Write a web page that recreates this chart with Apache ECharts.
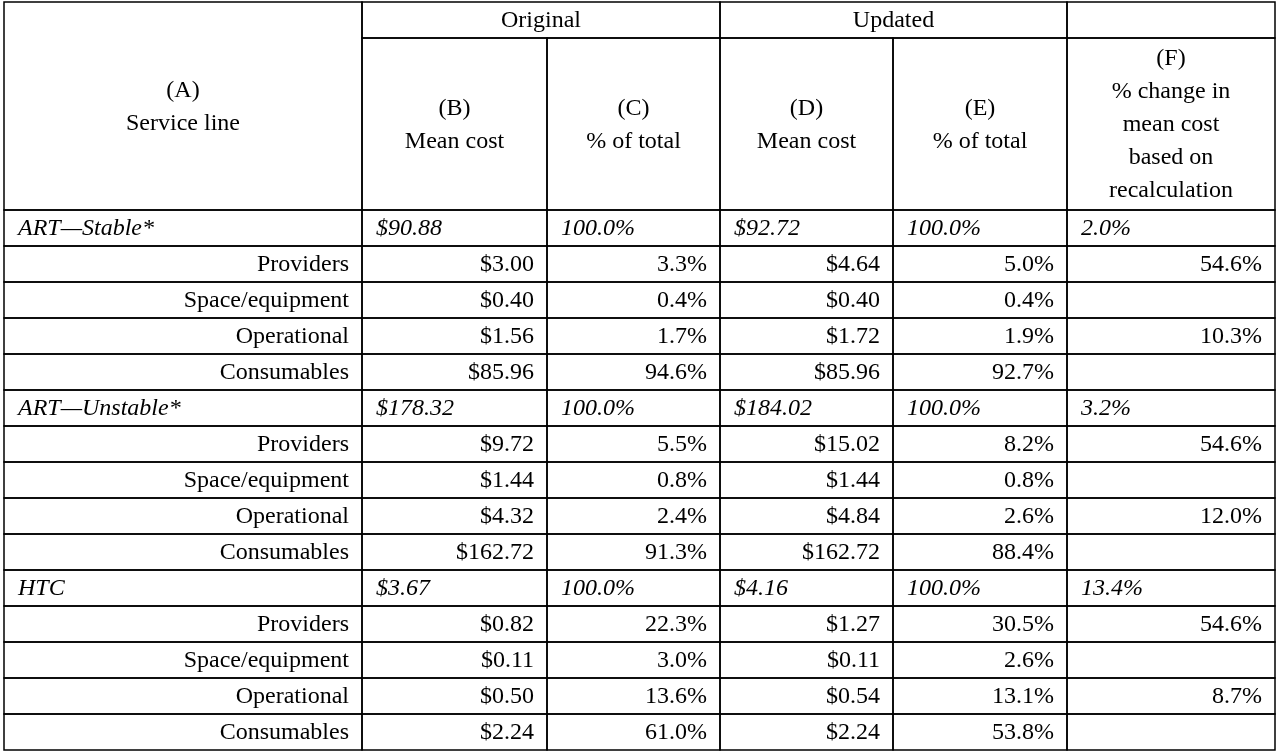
<!DOCTYPE html>
<html lang="en">
<head>
<meta charset="UTF-8">
<title>Service line cost table</title>
<script src="https://cdn.jsdelivr.net/npm/echarts@6/dist/echarts.min.js"></script>
<style>html,body{margin:0;padding:0;background:#fff;}</style>
</head>
<body>
<div id="main" style="width:1280px;height:753px;"></div>
<script type="text/javascript">
// table data
var rowLabels = ['ART\u2014Stable*', 'Providers', 'Space/equipment', 'Operational', 'Consumables',
                 'ART\u2014Unstable*', 'Providers', 'Space/equipment', 'Operational', 'Consumables',
                 'HTC', 'Providers', 'Space/equipment', 'Operational', 'Consumables'];
var isGroup   = [1,0,0,0,0, 1,0,0,0,0, 1,0,0,0,0];
var origMean  = ['$90.88','$3.00','$0.40','$1.56','$85.96', '$178.32','$9.72','$1.44','$4.32','$162.72', '$3.67','$0.82','$0.11','$0.50','$2.24'];
var origPct   = ['100.0%','3.3%','0.4%','1.7%','94.6%', '100.0%','5.5%','0.8%','2.4%','91.3%', '100.0%','22.3%','3.0%','13.6%','61.0%'];
var updMean   = ['$92.72','$4.64','$0.40','$1.72','$85.96', '$184.02','$15.02','$1.44','$4.84','$162.72', '$4.16','$1.27','$0.11','$0.54','$2.24'];
var updPct    = ['100.0%','5.0%','0.4%','1.9%','92.7%', '100.0%','8.2%','0.8%','2.6%','88.4%', '100.0%','30.5%','2.6%','13.1%','53.8%'];
var pctChange = ['2.0%','54.6%','','10.3%','', '3.2%','54.6%','','12.0%','', '13.4%','54.6%','','8.7%',''];
var colHeads  = ['(A)\nService line', '(B)\nMean cost', '(C)\n% of total', '(D)\nMean cost', '(E)\n% of total',
                 '(F)\n% change in\nmean cost\nbased on\nrecalculation'];

// layout
var colX = [4, 362, 547, 720, 893, 1067, 1275];
var headTop = 2, headMid = 38, headBot = 210, rowH = 36;

var cells = [];
function addCell(x0, x1, y0, y1, text, align, italic) {
  cells.push({value: [x0, y0, x1, y1], text: text, align: align, italic: italic});
}
addCell(colX[0], colX[1], headTop, headBot, colHeads[0], 'center', false);
addCell(colX[1], colX[3], headTop, headMid, 'Original', 'center', false);
addCell(colX[3], colX[5], headTop, headMid, 'Updated', 'center', false);
addCell(colX[5], colX[6], headTop, headMid, '', 'center', false);
for (var c = 1; c < 6; c++) addCell(colX[c], colX[c + 1], headMid, headBot, colHeads[c], 'center', false);
var cols = [rowLabels, origMean, origPct, updMean, updPct, pctChange];
for (var r = 0; r < rowLabels.length; r++) {
  var y0 = headBot + r * rowH;
  for (var k = 0; k < 6; k++) {
    addCell(colX[k], colX[k + 1], y0, y0 + rowH, cols[k][r], isGroup[r] ? 'left' : 'right', !!isGroup[r]);
  }
}

var myChart = echarts.init(document.getElementById('main'));
var option = {
  animation: false,
  grid: {left: 0, right: 0, top: 0, bottom: 0},
  xAxis: {type: 'value', min: 0, max: 1280, show: false},
  yAxis: {type: 'value', min: 0, max: 753, inverse: true, show: false},
  series: [{
    type: 'custom',
    coordinateSystem: 'cartesian2d',
    data: cells,
    renderItem: function (params, api) {
      var d = cells[params.dataIndex];
      var p0 = api.coord([d.value[0], d.value[1]]);
      var p1 = api.coord([d.value[2], d.value[3]]);
      var tx, ta;
      if (d.align === 'left') { tx = p0[0] + 14; ta = 'left'; }
      else if (d.align === 'right') { tx = p1[0] - 13; ta = 'right'; }
      else { tx = (p0[0] + p1[0]) / 2; ta = 'center'; }
      return {
        type: 'group',
        children: [{
          type: 'rect',
          shape: {x: p0[0], y: p0[1], width: p1[0] - p0[0], height: p1[1] - p0[1]},
          style: {fill: 'none', stroke: '#000', lineWidth: 1.5}
        }, {
          type: 'text',
          style: {
            x: tx, y: (p0[1] + p1[1]) / 2 + 1,
            text: d.text, align: ta, verticalAlign: 'middle',
            font: (d.italic ? 'italic ' : '') + '24px "Liberation Serif", "Times New Roman", serif',
            lineHeight: 33, fill: '#000'
          }
        }]
      };
    }
  }]
};
myChart.setOption(option);
</script>
</body>
</html>
